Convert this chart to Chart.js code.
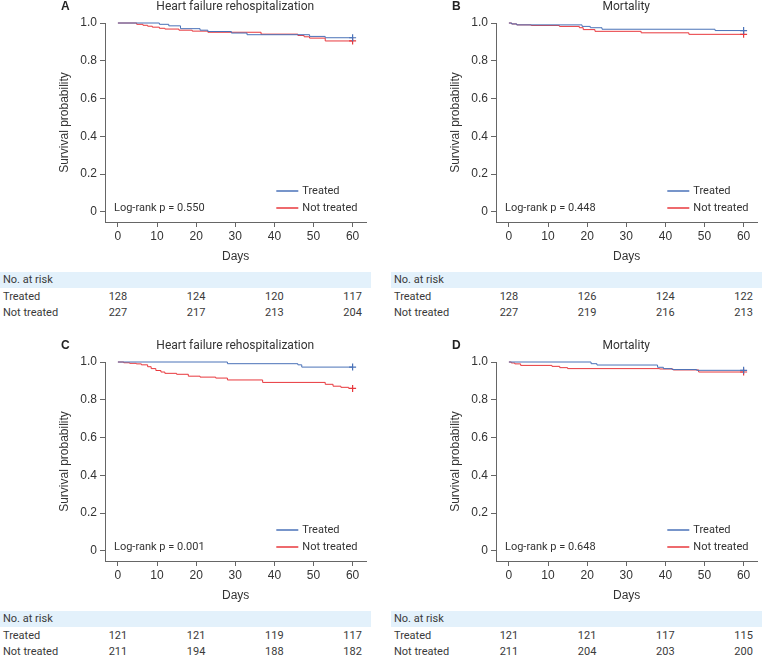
<!DOCTYPE html>
<html>
<head>
<meta charset="utf-8">
<script src="https://cdn.jsdelivr.net/npm/chart.js@4.4.1/dist/chart.umd.min.js"></script>
<style>
  body { margin: 0; background: #fff; width: 762px; height: 658px; overflow: hidden; position: relative; }
  .panel { position: absolute; width: 371px; height: 268px; }
  .band { position: absolute; height: 16px; background: #e3f1fb; }
  .risk { position: absolute; font: 11px Roboto, sans-serif; color: #3a3a3a; line-height: 16px; white-space: nowrap; }
</style>
</head>
<body>
<script>
// axis ticks
const dayTicks = [0, 10, 20, 30, 40, 50, 60];
const survTicks = [0, 0.2, 0.4, 0.6, 0.8, 1.0];
const riskDays = [0, 20, 40, 60];
const groups = ["Treated", "Not treated"];

// A: heart failure rehospitalization
const aTreatedDays = [0, 10.6, 13, 16, 21, 23, 29, 33, 49, 53, 60];
const aTreatedSurv = [1, 0.993, 0.985, 0.97, 0.962, 0.955, 0.947, 0.938, 0.929, 0.922, 0.922];
const aControlDays = [0, 4.8, 6.4, 7.6, 8.8, 10.6, 12, 15.6, 19, 23, 36.6, 46, 47.6, 49, 53, 60];
const aControlSurv = [1, 0.993, 0.988, 0.983, 0.978, 0.972, 0.968, 0.962, 0.957, 0.951, 0.941, 0.934, 0.927, 0.92, 0.905, 0.905];
const aRiskTreated = [128, 124, 120, 117];
const aRiskControl = [227, 217, 213, 204];

// B: mortality
const bTreatedDays = [0, 0.7, 2, 18.7, 20.8, 23.8, 52.7, 60];
const bTreatedSurv = [1, 0.995, 0.99, 0.982, 0.975, 0.967, 0.96, 0.96];
const bControlDays = [0, 0.7, 2, 5.7, 12.9, 18, 19, 22, 33.8, 46, 60];
const bControlSurv = [1, 0.995, 0.99, 0.987, 0.982, 0.975, 0.965, 0.956, 0.948, 0.94, 0.94];
const bRiskTreated = [128, 126, 124, 122];
const bRiskControl = [227, 219, 216, 213];

// C: heart failure rehospitalization
const cTreatedDays = [0, 28, 46, 47, 60];
const cTreatedSurv = [1, 0.991, 0.985, 0.973, 0.973];
const cControlDays = [0, 1.5, 3, 4.7, 6, 7.6, 8.5, 9.7, 11, 12, 15, 18, 21, 25, 28, 37, 53, 55, 57, 59, 60];
const cControlSurv = [1, 0.996, 0.993, 0.99, 0.985, 0.975, 0.965, 0.955, 0.947, 0.94, 0.935, 0.925, 0.92, 0.915, 0.905, 0.892, 0.882, 0.872, 0.866, 0.86, 0.86];
const cRiskTreated = [121, 121, 119, 117];
const cRiskControl = [211, 194, 188, 182];

// D: mortality
const dTreatedDays = [0, 21, 22.5, 38, 39.5, 41.7, 48, 60];
const dTreatedSurv = [1, 0.991, 0.984, 0.972, 0.965, 0.96, 0.956, 0.956];
const dControlDays = [0, 0.6, 1.5, 3, 11, 13, 15, 38.5, 42, 48.5, 60];
const dControlSurv = [1, 0.995, 0.99, 0.982, 0.977, 0.97, 0.965, 0.963, 0.958, 0.947, 0.947];
const dRiskTreated = [121, 121, 117, 115];
const dRiskControl = [211, 204, 203, 200];

const BLUE = "#4a72b8";
const RED = "#e8383d";
const AXIS = "#666";
const TXT = "#333";
const ARIAL = "'Liberation Sans', Arial, sans-serif";

const panels = [
  { left: 0, top: 0, letter: "A", title: "Heart failure rehospitalization", pval: "Log-rank p = 0.550",
    t: [aTreatedDays, aTreatedSurv], c: [aControlDays, aControlSurv], risk: [aRiskTreated, aRiskControl] },
  { left: 391, top: 0, letter: "B", title: "Mortality", pval: "Log-rank p = 0.448",
    t: [bTreatedDays, bTreatedSurv], c: [bControlDays, bControlSurv], risk: [bRiskTreated, bRiskControl] },
  { left: 0, top: 339, letter: "C", title: "Heart failure rehospitalization", pval: "Log-rank p = 0.001",
    t: [cTreatedDays, cTreatedSurv], c: [cControlDays, cControlSurv], risk: [cRiskTreated, cRiskControl] },
  { left: 391, top: 339, letter: "D", title: "Mortality", pval: "Log-rank p = 0.648",
    t: [dTreatedDays, dTreatedSurv], c: [dControlDays, dControlSurv], risk: [dRiskTreated, dRiskControl] },
];

function toPoints(xs, ys) {
  return xs.map((d, i) => ({ x: d, y: ys[i] }));
}

// letter, title, p-value and the little legend are drawn on the canvas
const decor = {
  id: "decor",
  afterDraw(chart, args, opts) {
    const { ctx, chartArea: a, scales: { x } } = chart;
    ctx.save();
    ctx.textBaseline = "middle";
    ctx.fillStyle = "#222";
    ctx.textAlign = "left";
    ctx.font = "bold 12px " + ARIAL;
    ctx.fillText(opts.letter, 61, 7);
    ctx.font = "12px Roboto, sans-serif";
    ctx.fillStyle = TXT;
    ctx.textAlign = "center";
    ctx.fillText(opts.title, (x.getPixelForValue(0) + x.getPixelForValue(60)) / 2, 7);

    ctx.font = "11px Roboto, sans-serif";
    ctx.textAlign = "left";
    ctx.fillText(opts.pval, a.left + 9, a.bottom - 14);

    const colors = [BLUE, RED];
    groups.forEach((g, i) => {
      const y = a.bottom - 31 + i * 17;
      ctx.strokeStyle = colors[i];
      ctx.lineWidth = 1.5;
      ctx.beginPath();
      ctx.moveTo(a.right - 90, y);
      ctx.lineTo(a.right - 68, y);
      ctx.stroke();
      ctx.fillStyle = TXT;
      ctx.fillText(g, a.right - 64, y);
    });
    ctx.restore();
  }
};

function makeDataset(label, pts, color) {
  const last = pts.length - 1;
  return {
    label: label,
    data: pts,
    borderColor: color,
    backgroundColor: color,
    borderWidth: 1,
    stepped: true,
    fill: false,
    pointStyle: "cross",
    pointRadius: (c) => (c.dataIndex === last ? 3.5 : 0),
    pointBorderWidth: 1.2,
    pointHoverRadius: 0,
    clip: false,
  };
}

function addText(txt, left, top, extra) {
  const el = document.createElement("div");
  el.className = "risk";
  el.textContent = txt;
  el.style.left = left + "px";
  el.style.top = top + "px";
  if (extra) el.style.transform = extra;
  document.body.appendChild(el);
  return el;
}

panels.forEach((p) => {
  const wrap = document.createElement("div");
  wrap.className = "panel";
  wrap.style.left = p.left + "px";
  wrap.style.top = p.top + "px";
  const canvas = document.createElement("canvas");
  wrap.appendChild(canvas);
  document.body.appendChild(wrap);

  const chart = new Chart(canvas, {
    type: "line",
    data: {
      datasets: [
        makeDataset(groups[0], toPoints(p.t[0], p.t[1]), BLUE),
        makeDataset(groups[1], toPoints(p.c[0], p.c[1]), RED),
      ],
    },
    options: {
      responsive: true,
      maintainAspectRatio: false,
      animation: false,
      events: [],
      layout: { padding: { top: 23, left: 53, right: 1, bottom: 0 } },
      plugins: {
        legend: { display: false },
        tooltip: { enabled: false },
        decor: { letter: p.letter, title: p.title, pval: p.pval },
      },
      scales: {
        x: {
          type: "linear",
          min: -3.3,
          max: 63.5,
          afterBuildTicks: (s) => { s.ticks = dayTicks.map((v) => ({ value: v })); },
          afterFit: (s) => { s.height = 46; },
          border: { display: true, color: AXIS, width: 1 },
          grid: { display: true, drawOnChartArea: false, drawTicks: true, tickLength: 5, color: AXIS },
          ticks: { autoSkip: false, maxRotation: 0, padding: 2, color: TXT, font: { family: ARIAL, size: 12 } },
          title: { display: true, text: "Days", color: TXT, font: { family: ARIAL, size: 12 }, padding: { top: 2, bottom: 4 } },
        },
        y: {
          type: "linear",
          min: -0.053,
          max: 1.0,
          afterBuildTicks: (s) => { s.ticks = survTicks.map((v) => ({ value: v })); },
          afterFit: (s) => { s.width = 52; },
          border: { display: true, color: AXIS, width: 1 },
          grid: { display: true, drawOnChartArea: false, drawTicks: true, tickLength: 5, color: AXIS },
          ticks: {
            autoSkip: false,
            padding: 3,
            color: TXT,
            font: { family: ARIAL, size: 12 },
            callback: (v) => (v === 0 ? "0" : v.toFixed(1)),
          },
          title: { display: true, text: "Survival probability", color: TXT, font: { family: ARIAL, size: 12 }, padding: { top: 4, bottom: 4 } },
        },
      },
    },
    plugins: [decor],
  });

  // number at risk table under each panel
  const band = document.createElement("div");
  band.className = "band";
  band.style.left = p.left + "px";
  band.style.top = p.top + 272 + "px";
  band.style.width = "371px";
  document.body.appendChild(band);

  addText("No. at risk", p.left + 3, p.top + 272);
  const rowTops = [p.top + 289, p.top + 305];
  groups.forEach((g, gi) => {
    addText(g, p.left + 3, rowTops[gi]);
    riskDays.forEach((d, di) => {
      const px = p.left + chart.scales.x.getPixelForValue(d);
      addText(String(p.risk[gi][di]), px, rowTops[gi], "translateX(-50%)");
    });
  });
});
</script>
</body>
</html>
